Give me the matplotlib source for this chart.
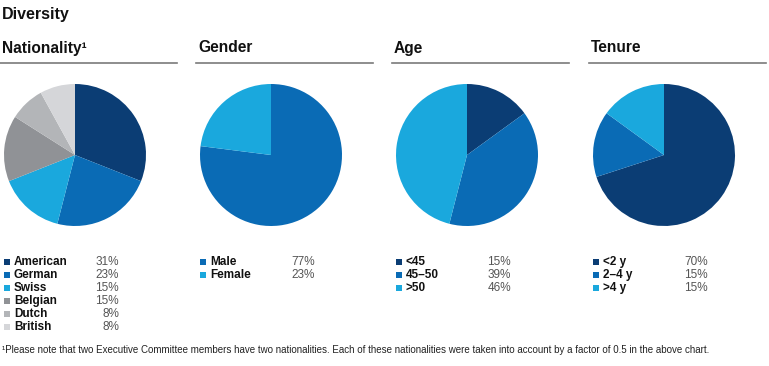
import matplotlib
matplotlib.use("Agg")
import matplotlib.pyplot as plt
from matplotlib.patches import Rectangle
from matplotlib.lines import Line2D

plt.rcParams['font.family'] = ['Liberation Sans', 'DejaVu Sans']

W, H = 769, 366

nat_labels = ["American", "German", "Swiss", "Belgian", "Dutch", "British"]
nat_values = [31, 23, 15, 15, 8, 8]
gen_labels = ["Male", "Female"]
gen_values = [77, 23]
age_labels = ["<45", "45–50", ">50"]
age_values = [15, 39, 46]
ten_labels = ["<2 y", "2–4 y", ">4 y"]
ten_values = [70, 15, 15]

titles = ["Nationality¹", "Gender", "Age", "Tenure"]

navy = "#0b3d74"
mid = "#0a6bb5"
light = "#1aa8dd"
nat_colors = [navy, mid, light, "#909296", "#b3b5b8", "#d5d6d9"]
gen_colors = [mid, light]
age_colors = [navy, mid, light]
ten_colors = [navy, mid, light]

fig = plt.figure(figsize=(W / 100, H / 100), dpi=100)

def px_axes(x, y, w, h):
    return fig.add_axes([x / W, 1 - (y + h) / H, w / W, h / H])

def fx(x):
    return x / W

def fy(y):
    return 1 - y / H

fig.text(fx(2), fy(14), "Diversity", fontsize=11.5, fontweight="bold", va="center", ha="left", color="#111111")

groups = [
    (nat_labels, nat_values, nat_colors, 0),
    (gen_labels, gen_values, gen_colors, 196),
    (age_labels, age_values, age_colors, 392),
    (ten_labels, ten_values, ten_colors, 589),
]

for (labels, values, colors, x0), title in zip(groups, titles):
    fig.text(fx(x0 + 2), fy(48), title, fontsize=11.2, fontweight="bold", va="center", ha="left", color="#111111")
    fig.add_artist(Line2D([fx(x0), fx(x0 + 177)], [fy(62.5), fy(62.5)], color="#7a7a7a", lw=1.2))
    ax = px_axes(x0 + 4, 84, 142, 142)
    ax.pie(values, colors=colors, startangle=90, counterclock=False, radius=1.0,
           wedgeprops=dict(linewidth=0))
    ax.set_xlim(-1, 1)
    ax.set_ylim(-1, 1)
    ax.set_aspect("equal")
    ax.axis("off")
    for i, (lab, val, col) in enumerate(zip(labels, values, colors)):
        yy = 262 + i * 13
        fig.add_artist(Rectangle((fx(x0 + 4), fy(yy + 3)), 6 / W, 6 / H, color=col, lw=0,
                                 transform=fig.transFigure))
        fig.text(fx(x0 + 14), fy(yy), lab, fontsize=8.5, fontweight="bold", va="center", ha="left", color="#111111")
        fig.text(fx(x0 + 119), fy(yy), f"{val}%", fontsize=8.5, va="center", ha="right", color="#555555")

fig.text(fx(2), fy(350), "¹Please note that two Executive Committee members have two nationalities. Each of these nationalities were taken into account by a factor of 0.5 in the above chart.",
         fontsize=7.0, va="center", ha="left", color="#222222")

fig.savefig("out.png", dpi=100)
